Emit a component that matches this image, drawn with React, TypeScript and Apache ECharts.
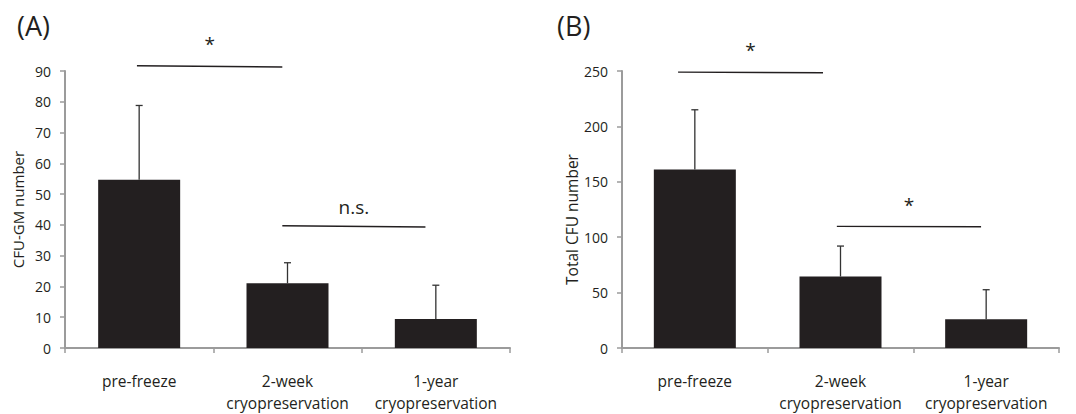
import React, { useEffect, useRef } from "react";
import * as echarts from "echarts";

const categories = ["pre-freeze", "2-week\ncryopreservation", "1-year\ncryopreservation"];

// Panel A: CFU-GM number
const cfuGmMean = [54.7, 21.0, 9.4];
const cfuGmUpper = [78.8, 27.7, 20.4];
// Panel B: Total CFU number
const totalCfuMean = [161, 64.5, 26];
const totalCfuUpper = [215, 92, 52.6];

const yTicksA = { min: 0, max: 90, interval: 10 };
const yTicksB = { min: 0, max: 250, interval: 50 };

// significance annotations: [fromCategory, toCategory, yLeft, yRight]
const sigA = [
  [0, 1, 91.7, 91.3],
  [1, 2, 39.7, 39.3],
];
const sigALabels = ["*", "n.s."];
const sigB = [
  [0, 1, 249, 248.4],
  [1, 2, 109.8, 109.4],
];
const sigBLabels = ["*", "*"];

// horizontal shifts of annotation line ends (fraction of category width)
const sigShiftA = [
  [-0.015, -0.035],
  [-0.035, -0.07],
];
const sigShiftB = [
  [-0.115, -0.12],
  [-0.025, -0.035],
];

const FONT = "Open Sans";
const TEXT = "#231f20";
const AXIS = "#9b9b9b";
const BAR = "#231f20";

function errorSeries(xi: number, means: number[], uppers: number[]) {
  return {
    type: "custom",
    xAxisIndex: xi,
    yAxisIndex: xi,
    silent: true,
    z: 5,
    encode: { x: 0, y: [1, 2] },
    data: means.map((m, i) => [i, m, uppers[i]]),
    renderItem: (params: any, api: any) => {
      const i = api.value(0);
      const p0 = api.coord([i, api.value(1)]);
      const p1 = api.coord([i, api.value(2)]);
      const half = 3.5;
      return {
        type: "group",
        children: [
          {
            type: "line",
            shape: { x1: p0[0], y1: p0[1], x2: p1[0], y2: p1[1] },
            style: { stroke: "#333", lineWidth: 1.3 },
          },
          {
            type: "line",
            shape: { x1: p1[0] - half, y1: p1[1], x2: p1[0] + half, y2: p1[1] },
            style: { stroke: "#333", lineWidth: 1.3 },
          },
        ],
      };
    },
  };
}

function sigSeries(xi: number, sig: number[][], labels: string[], shifts: number[][]) {
  return {
    type: "custom",
    xAxisIndex: xi,
    yAxisIndex: xi,
    silent: true,
    z: 6,
    encode: { x: [0, 1], y: [2, 3] },
    data: sig,
    clip: false,
    renderItem: (params: any, api: any) => {
      const idx = params.dataIndex;
      const w = api.size([1, 0])[0];
      const a = api.coord([api.value(0), api.value(2)]);
      const b = api.coord([api.value(1), api.value(3)]);
      const x1 = a[0] + shifts[idx][0] * w;
      const x2 = b[0] + shifts[idx][1] * w;
      const label = labels[idx];
      const isStar = label === "*";
      const cx = (x1 + x2) / 2;
      const cy = (a[1] + b[1]) / 2;
      return {
        type: "group",
        children: [
          {
            type: "line",
            shape: { x1, y1: a[1], x2, y2: b[1] },
            style: { stroke: "#231f20", lineWidth: 1.4 },
          },
          {
            type: "text",
            x: cx,
            y: isStar ? cy - 22 : cy - 19,
            style: {
              text: label,
              fill: TEXT,
              font: `19px "${FONT}"`,
              textAlign: "center",
              textVerticalAlign: "middle",
            },
          },
        ],
      };
    },
  };
}

function xAxis(gi: number) {
  return {
    type: "category",
    gridIndex: gi,
    data: categories,
    axisLine: { show: true, lineStyle: { color: AXIS, width: 2 } },
    axisTick: { show: true, length: 5, lineStyle: { color: AXIS, width: 1.5 } },
    axisLabel: {
      color: TEXT,
      fontFamily: FONT,
      fontSize: 15.5,
      lineHeight: 22,
      margin: 22,
      interval: 0,
    },
    splitLine: { show: false },
  };
}

function yAxis(
  gi: number,
  t: { min: number; max: number; interval: number },
  name: string,
  gap: number,
  nameSize: number,
  namePad: number[]
) {
  return {
    type: "value",
    gridIndex: gi,
    min: t.min,
    max: t.max,
    interval: t.interval,
    name,
    nameLocation: "middle",
    nameGap: gap,
    nameTextStyle: { color: TEXT, fontFamily: FONT, fontSize: nameSize, padding: namePad },
    axisLine: { show: true, lineStyle: { color: AXIS, width: 2 } },
    axisTick: { show: true, length: 5, lineStyle: { color: AXIS, width: 1.5 } },
    axisLabel: { color: TEXT, fontFamily: FONT, fontSize: 14, margin: 14 },
    splitLine: { show: false },
  };
}

export default function App() {
  const ref = useRef<HTMLDivElement>(null);
  useEffect(() => {
    document.body.style.margin = "0";
    const chart = echarts.init(ref.current!, null, { renderer: "svg" });
    chart.setOption({
      animation: false,
      backgroundColor: "#ffffff",
      textStyle: { fontFamily: FONT },
      title: [
        { text: "(A)", left: 12, top: 7, textStyle: { fontFamily: FONT, fontSize: 27, fontWeight: "normal", color: TEXT } },
        { text: "(B)", left: 552, top: 7, textStyle: { fontFamily: FONT, fontSize: 27, fontWeight: "normal", color: TEXT } },
      ],
      grid: [
        { left: 65, top: 71, width: 445, height: 279 },
        { left: 622, top: 71, width: 437, height: 279 },
      ],
      xAxis: [xAxis(0), xAxis(1)],
      yAxis: [
        yAxis(0, yTicksA, "CFU-GM number", 40, 15, [0, 0, 0, 0]),
        yAxis(1, yTicksB, "Total CFU number", 42, 15.5, [0, 20, 0, 0]),
      ],
      series: [
        {
          type: "bar",
          xAxisIndex: 0,
          yAxisIndex: 0,
          data: cfuGmMean,
          barWidth: 82,
          itemStyle: { color: BAR },
          silent: true,
        },
        {
          type: "bar",
          xAxisIndex: 1,
          yAxisIndex: 1,
          data: totalCfuMean,
          barWidth: 82,
          itemStyle: { color: BAR },
          silent: true,
        },
        errorSeries(0, cfuGmMean, cfuGmUpper),
        errorSeries(1, totalCfuMean, totalCfuUpper),
        sigSeries(0, sigA, sigALabels, sigShiftA),
        sigSeries(1, sigB, sigBLabels, sigShiftB),
      ],
    });
    return () => chart.dispose();
  }, []);
  return <div ref={ref} style={{ width: 1076, height: 414 }} />;
}
